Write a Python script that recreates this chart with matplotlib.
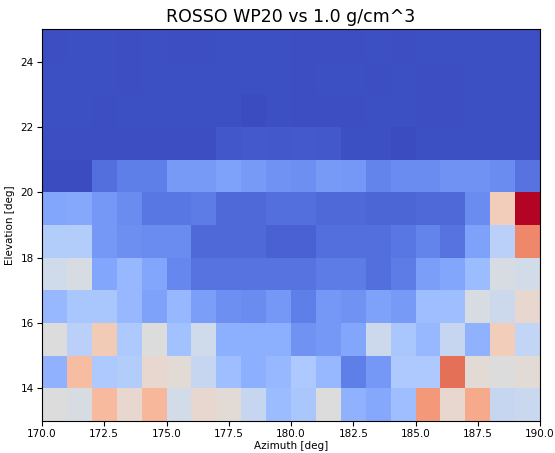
import numpy as np
import matplotlib
matplotlib.use("Agg")
import matplotlib.pyplot as plt

azimuth_edges = np.arange(170, 191, 1)
elevation_edges = np.arange(13, 26, 1)

# rows from elevation 13-14 (bottom) to 24-25 (top); columns azimuth 170..189
row_13 = [0.50, 0.48, 0.66, 0.54, 0.67, 0.46, 0.54, 0.52, 0.42, 0.29, 0.33, 0.50, 0.26, 0.23, 0.30, 0.75, 0.54, 0.71, 0.42, 0.43]
row_14 = [0.26, 0.65, 0.34, 0.36, 0.54, 0.52, 0.42, 0.30, 0.25, 0.28, 0.34, 0.28, 0.12, 0.18, 0.34, 0.34, 0.84, 0.52, 0.50, 0.52]
row_15 = [0.50, 0.38, 0.60, 0.34, 0.50, 0.31, 0.45, 0.25, 0.25, 0.25, 0.17, 0.18, 0.22, 0.44, 0.33, 0.28, 0.42, 0.26, 0.59, 0.41]
row_16 = [0.28, 0.33, 0.33, 0.28, 0.21, 0.28, 0.20, 0.16, 0.15, 0.18, 0.12, 0.18, 0.17, 0.21, 0.19, 0.30, 0.30, 0.48, 0.44, 0.54]
row_17 = [0.45, 0.48, 0.22, 0.28, 0.22, 0.14, 0.09, 0.09, 0.09, 0.09, 0.09, 0.11, 0.11, 0.08, 0.11, 0.20, 0.22, 0.29, 0.48, 0.46]
row_18 = [0.36, 0.36, 0.18, 0.16, 0.15, 0.15, 0.07, 0.07, 0.07, 0.05, 0.05, 0.08, 0.08, 0.08, 0.10, 0.13, 0.09, 0.21, 0.38, 0.79]
row_19 = [0.22, 0.23, 0.18, 0.15, 0.10, 0.10, 0.11, 0.07, 0.07, 0.08, 0.08, 0.07, 0.07, 0.06, 0.06, 0.07, 0.07, 0.15, 0.59, 1.00]
row_20 = [0.00, 0.00, 0.08, 0.12, 0.12, 0.19, 0.19, 0.21, 0.19, 0.17, 0.16, 0.19, 0.18, 0.13, 0.15, 0.15, 0.17, 0.17, 0.15, 0.09]
row_21 = [0.005, 0.005, 0.005, 0.005, 0.005, 0.005, 0.005, 0.025, 0.035, 0.03, 0.035, 0.03, 0.01, 0.01, 0.0, 0.01, 0.01, 0.01, 0.01, 0.01]
row_22 = [0.01, 0.01, 0.005, 0.01, 0.01, 0.01, 0.01, 0.01, 0.0, 0.01, 0.005, 0.005, 0.005, 0.01, 0.01, 0.005, 0.005, 0.01, 0.01, 0.01]
row_23 = [0.01, 0.01, 0.01, 0.007, 0.01, 0.01, 0.01, 0.01, 0.01, 0.01, 0.005, 0.01, 0.01, 0.005, 0.01, 0.005, 0.005, 0.01, 0.01, 0.01]
row_24 = [0.005, 0.01, 0.01, 0.005, 0.01, 0.005, 0.005, 0.01, 0.01, 0.01, 0.005, 0.005, 0.005, 0.01, 0.005, 0.01, 0.01, 0.01, 0.01, 0.01]

values = np.array([row_13, row_14, row_15, row_16, row_17, row_18,
                   row_19, row_20, row_21, row_22, row_23, row_24])

xticks = [170.0, 172.5, 175.0, 177.5, 180.0, 182.5, 185.0, 187.5, 190.0]
yticks = [14, 16, 18, 20, 22, 24]

fig = plt.figure(figsize=(5.55, 4.53), dpi=100)
ax = fig.add_axes([42 / 555, 1 - 421 / 453, 498 / 555, 392 / 453])
ax.pcolormesh(azimuth_edges, elevation_edges, values, cmap="coolwarm",
              vmin=0.0, vmax=1.0, shading="flat")
ax.set_xlim(170, 190)
ax.set_ylim(13, 25)
ax.set_xticks(xticks)
ax.set_xticklabels([f"{t:.1f}" for t in xticks])
ax.set_yticks(yticks)
ax.tick_params(labelsize=7.5, length=3.5, pad=2.5)
ax.set_xlabel("Azimuth [deg]", fontsize=7.5, labelpad=1)
ax.set_ylabel("Elevation [deg]", fontsize=7.5, labelpad=4)
ax.set_title("ROSSO WP20 vs 1.0 g/cm^3", fontsize=12.5, pad=5)
fig.savefig("out.png", dpi=100)
